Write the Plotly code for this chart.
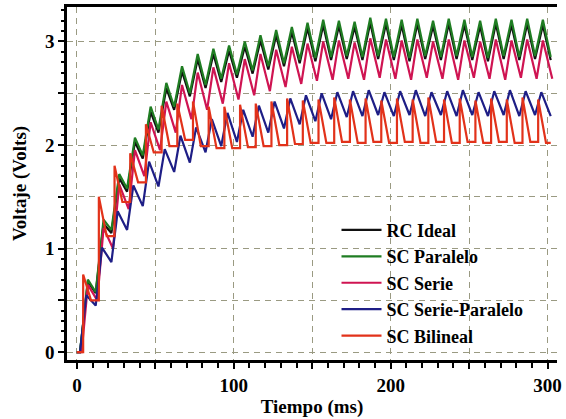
import plotly.graph_objects as go

# ---- data (volts) ----
# cycle period 10 ms; peaks/troughs per cycle
cycle_ms = 10
n_cycles = 30

paralelo_peak = [0.70, 1.28, 1.72, 2.07, 2.37, 2.60, 2.76, 2.88, 2.93, 2.96,
                 3.00, 3.06, 3.11, 3.14, 3.18, 3.21, 3.20, 3.19, 3.23, 3.22,
                 3.21, 3.22, 3.20, 3.22, 3.21, 3.20, 3.22, 3.21, 3.22, 3.21]
paralelo_trough = [0.00, 0.58, 1.18, 1.58, 1.90, 2.15, 2.37, 2.50, 2.58, 2.64,
                   2.68, 2.72, 2.76, 2.79, 2.82, 2.84, 2.85, 2.86, 2.85, 2.86,
                   2.85, 2.84, 2.86, 2.85, 2.86, 2.85, 2.84, 2.86, 2.85, 2.86, 2.85]

ideal_peak = [0.68, 1.24, 1.68, 2.03, 2.32, 2.55, 2.71, 2.83, 2.88, 2.91,
              2.95, 3.01, 3.06, 3.09, 3.13, 3.16, 3.15, 3.14, 3.18, 3.17,
              3.16, 3.17, 3.15, 3.17, 3.16, 3.15, 3.17, 3.16, 3.17, 3.16]
ideal_trough = [0.00, 0.57, 1.15, 1.55, 1.87, 2.12, 2.34, 2.47, 2.55, 2.61,
                2.65, 2.69, 2.73, 2.76, 2.79, 2.81, 2.82, 2.83, 2.82, 2.83,
                2.82, 2.81, 2.83, 2.82, 2.83, 2.82, 2.81, 2.83, 2.82, 2.83, 2.82]

serie_peak = [0.65, 1.20, 1.62, 1.95, 2.22, 2.42, 2.58, 2.70, 2.75, 2.79,
              2.83, 2.88, 2.92, 2.95, 2.98, 3.00, 3.01, 2.99, 3.03, 3.02,
              3.01, 3.02, 3.00, 3.02, 3.01, 3.00, 3.02, 3.01, 3.02, 3.01]
serie_trough = [0.00, 0.50, 1.00, 1.38, 1.70, 1.95, 2.12, 2.25, 2.34, 2.40,
                2.44, 2.48, 2.52, 2.56, 2.59, 2.62, 2.63, 2.64, 2.63, 2.65,
                2.64, 2.63, 2.65, 2.64, 2.63, 2.65, 2.64, 2.63, 2.65, 2.64, 2.64]

sp_peak = [0.55, 1.01, 1.36, 1.61, 1.84, 1.96, 2.09, 2.17, 2.25, 2.31,
           2.34, 2.38, 2.42, 2.45, 2.48, 2.50, 2.51, 2.52, 2.53, 2.51,
           2.52, 2.53, 2.51, 2.52, 2.53, 2.51, 2.52, 2.53, 2.52, 2.51]
sp_trough = [0.00, 0.45, 0.87, 1.18, 1.41, 1.60, 1.74, 1.83, 1.93, 1.99,
             2.03, 2.08, 2.12, 2.16, 2.20, 2.23, 2.25, 2.27, 2.28, 2.29,
             2.28, 2.29, 2.28, 2.29, 2.28, 2.29, 2.28, 2.29, 2.28, 2.29, 2.28]

bil_spike = [0.75, 1.50, 1.80, 1.92, 2.20, 2.38, 2.40, 2.42, 2.37, 2.37,
             2.39, 2.40, 2.42, 2.45, 2.43, 2.44, 2.46, 2.44, 2.45, 2.43,
             2.45, 2.44, 2.46, 2.44, 2.45, 2.43, 2.45, 2.44, 2.46, 2.44]
bil_low = [0.00, 0.50, 1.12, 1.45, 1.64, 1.93, 1.99, 2.05, 1.99, 1.97,
           1.97, 1.98, 1.99, 2.00, 2.01, 2.02, 2.02, 2.03, 2.02, 2.03,
           2.02, 2.03, 2.02, 2.03, 2.02, 2.03, 2.02, 2.03, 2.02, 2.03, 2.02]

names = ["RC Ideal", "SC Paralelo", "SC Serie", "SC Serie-Paralelo", "SC Bilineal"]
colors = ["#111111", "#1f7d22", "#cf1452", "#1e1e86", "#e2321a"]

x_ticks = [0, 50, 100, 150, 200, 250, 300]
x_text = ["0", "", "100", "", "200", "", "300"]
y_ticks = [0, 0.5, 1, 1.5, 2, 2.5, 3]
y_text = ["0", "", "1", "", "2", "", "3"]


def zigzag(peaks, troughs, t_trough=2, t_peak=7):
    xs, ys = [0], [0.0]
    for k in range(n_cycles):
        xs += [k * cycle_ms + t_trough, k * cycle_ms + t_peak]
        ys += [troughs[k], peaks[k]]
    xs.append(n_cycles * cycle_ms + t_trough)
    ys.append(troughs[n_cycles])
    return xs, ys


def sawtooth(spikes, lows, t_rise=4, t_fall=9):
    xs, ys = [0], [0.0]
    for k in range(n_cycles):
        xs += [k * cycle_ms + t_rise, k * cycle_ms + t_rise, k * cycle_ms + t_fall]
        ys += [lows[k], spikes[k], lows[k + 1]]
    xs.append(n_cycles * cycle_ms + 2)
    ys.append(lows[n_cycles])
    return xs, ys


series = [
    zigzag(ideal_peak, ideal_trough),
    zigzag(paralelo_peak, paralelo_trough),
    zigzag(serie_peak, serie_trough, 3, 7),
    zigzag(sp_peak, sp_trough, 2, 6),
    sawtooth(bil_spike, bil_low),
]

fig = go.Figure()
for (xs, ys), nm, c in zip(series, names, colors):
    fig.add_trace(go.Scatter(x=xs, y=ys, mode="lines", name=nm,
                             line=dict(color=c, width=2.2)))

# white area behind legend (covers grid like the original)
fig.add_shape(type="rect", xref="paper", yref="paper",
              x0=0.515, x1=0.985, y0=0.04, y1=0.445,
              fillcolor="white", line=dict(width=0), layer="between")

serif = "Liberation Serif"
grid_col = "#9a9a82"

fig.update_layout(
    width=566, height=419,
    margin=dict(l=67, r=4, t=6, b=55),
    paper_bgcolor="white", plot_bgcolor="white",
    font=dict(family=serif, size=19, color="black"),
    showlegend=True,
    legend=dict(x=0.55, y=0.42, xanchor="left", yanchor="top",
                bgcolor="rgba(0,0,0,0)", borderwidth=0,
                font=dict(family=serif, size=18, color="black", weight="bold"),
                itemwidth=40, tracegroupgap=0),
    xaxis=dict(range=[-6.3, 306], tickmode="array", tickvals=x_ticks, ticktext=x_text,
               showline=True, linecolor="black", linewidth=2.5, mirror=True,
               ticks="outside", ticklen=6, tickwidth=2, tickcolor="black",
               showgrid=True, gridcolor=grid_col, griddash="6px,5px", gridwidth=1.3,
               zeroline=False, ticklabeloverflow="allow",
               minor=dict(dtick=10, ticks="outside", ticklen=5, tickwidth=2,
                          tickcolor="black", showgrid=False),
               tickfont=dict(family=serif, size=19, weight="bold"),
               title=dict(text="Tiempo (ms)", standoff=6,
                          font=dict(family=serif, size=19, weight="bold"))),
    yaxis=dict(range=[-0.076, 3.333], tickmode="array", tickvals=y_ticks, ticktext=y_text,
               showline=True, linecolor="black", linewidth=2.5,
               ticks="outside", ticklen=6, tickwidth=2, tickcolor="black",
               showgrid=True, gridcolor=grid_col, griddash="6px,5px", gridwidth=1.3,
               zeroline=False,
               minor=dict(dtick=0.1, ticks="outside", ticklen=3, tickwidth=1.5,
                          tickcolor="black", showgrid=False),
               tickfont=dict(family=serif, size=19, weight="bold"),
               title=dict(text="Voltaje (Volts)", standoff=14,
                          font=dict(family=serif, size=19, weight="bold"))),
)

fig.write_html("out.html")
